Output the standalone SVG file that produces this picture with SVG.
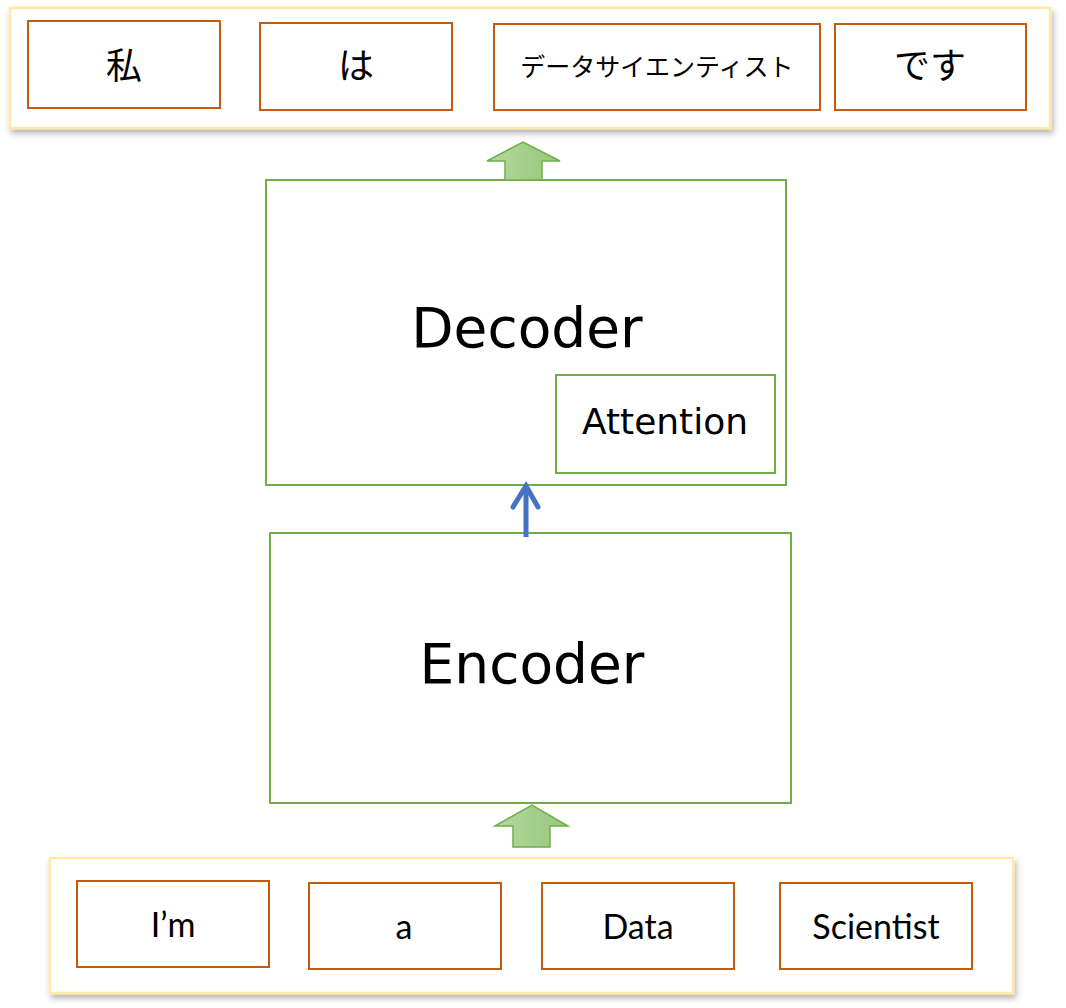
<svg xmlns="http://www.w3.org/2000/svg" width="1066" height="1008" viewBox="0 0 1066 1008">
<defs>
<filter id="sh" x="-5%" y="-20%" width="110%" height="150%">
<feDropShadow dx="2" dy="4" stdDeviation="3" flood-color="#000" flood-opacity="0.3"/>
</filter>
<linearGradient id="gg" x1="0" y1="0" x2="1" y2="0">
<stop offset="0" stop-color="#B5D9A0"/>
<stop offset="1" stop-color="#97C57C"/>
</linearGradient>
</defs>
<style>
.panel{fill:#fff;stroke:#FFE9A6;stroke-width:2.5;filter:url(#sh)}
.tok{fill:#fff;stroke:#C55A11;stroke-width:2}
.blk{fill:#fff;stroke:#70AD47;stroke-width:2}
.jp{font-family:"Noto Sans CJK JP",sans-serif;fill:#000;text-anchor:middle;dominant-baseline:central}
.en{font-family:"DejaVu Sans",sans-serif;fill:#000;text-anchor:middle}
.in{font-family:Lato,"Liberation Sans",sans-serif;font-size:34px;fill:#000;text-anchor:middle}
.garrow{fill:url(#gg);stroke:#70AD47;stroke-width:1.5}
</style>
<rect x="0" y="0" width="1066" height="1008" fill="#fff"/>
<g id="output-panel">
<rect class="panel" x="10" y="8" width="1040" height="120"/>
</g>
<g id="tok-watashi"><rect class="tok" x="28" y="21" width="192" height="87"/><text class="jp" x="124" y="63" font-size="36">私</text></g>
<g id="tok-wa"><rect class="tok" x="260" y="23" width="192" height="87"/><text class="jp" x="356" y="63" font-size="36">は</text></g>
<g id="tok-ds"><rect class="tok" x="494" y="24" width="326" height="86"/><text class="jp" x="657" y="65" font-size="25">データサイエンティスト</text></g>
<g id="tok-desu"><rect class="tok" x="835" y="24" width="191" height="86"/><text class="jp" x="930" y="63" font-size="36">です</text></g>
<g id="decoder"><rect class="blk" x="266" y="180" width="520" height="305"/><text class="en" x="527" y="347" font-size="55">Decoder</text></g>
<g id="attention"><rect class="blk" x="556" y="375" width="219" height="98"/><text class="en" x="665" y="434" font-size="36">Attention</text></g>
<g id="encoder"><rect class="blk" x="270" y="533" width="521" height="270"/><text class="en" x="532" y="683" font-size="55">Encoder</text></g>
<g id="input-panel">
<rect class="panel" x="50" y="858" width="963" height="135"/>
</g>
<g id="tok-im"><rect class="tok" x="77" y="881" width="192" height="86"/><text class="in" x="173" y="937">I’m</text></g>
<g id="tok-a"><rect class="tok" x="309" y="883" width="192" height="86"/><text class="in" x="404" y="939">a</text></g>
<g id="tok-data"><rect class="tok" x="542" y="883" width="192" height="86"/><text class="in" x="638" y="939">Data</text></g>
<g id="tok-sci"><rect class="tok" x="780" y="883" width="192" height="86"/><text class="in" x="876" y="939">Scientist</text></g>
<g id="connectors">
<path class="garrow" d="M505,180 L505,161 L487,161 L523,142 L560,161 L542,161 L542,180 Z"/>
<path class="garrow" d="M513,847 L513,826 L495,826 L532,805 L568,826 L550,826 L550,847 Z"/>
<line x1="526" y1="537" x2="526" y2="490" stroke="#4472C4" stroke-width="5"/>
<polyline points="513,507 526,486 538,507" fill="none" stroke="#4472C4" stroke-width="5" stroke-linecap="round" stroke-linejoin="miter"/>
</g>
</svg>
